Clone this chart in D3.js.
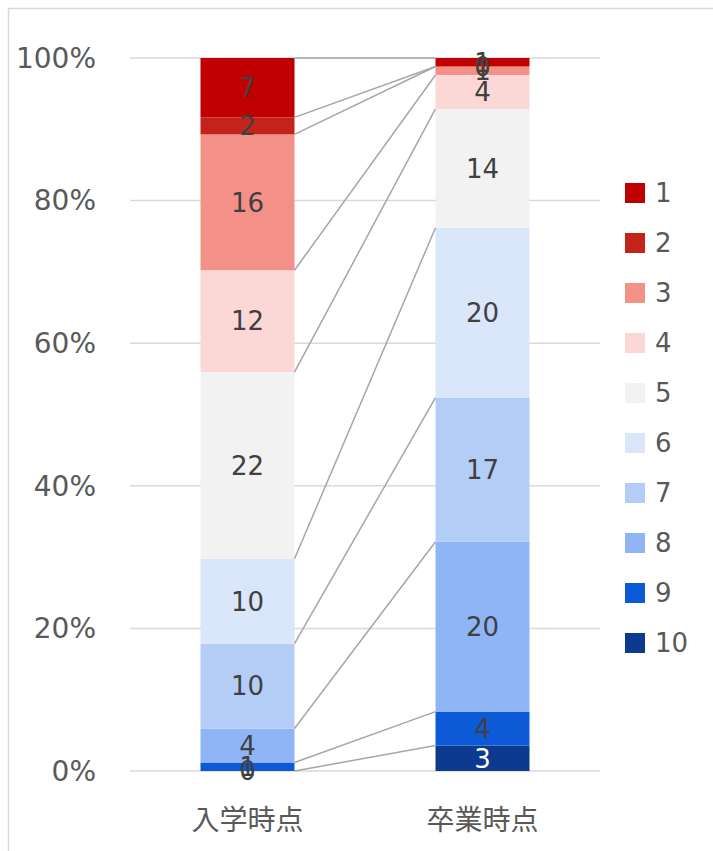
<!DOCTYPE html>
<html>
<head>
<meta charset="utf-8">
<script src="https://cdn.jsdelivr.net/npm/d3@7/dist/d3.min.js"></script>
<style>
  html, body { margin: 0; padding: 0; background: #fff; }
  svg { display: block; }
</style>
</head>
<body>
<svg id="chart" width="713" height="851"></svg>
<script>
// Categories (x axis) and series (stack order bottom-up is 10 → 1)
const categories = ["入学時点", "卒業時点"];
const seriesNames = ["1", "2", "3", "4", "5", "6", "7", "8", "9", "10"];
// Counts per series, one value per category
const valuesEntry = [7, 2, 16, 12, 22, 10, 10, 4, 1, 0];
const valuesGrad  = [1, 0, 1, 4, 14, 20, 17, 20, 4, 3];
const seriesColors = ["#c00000", "#c4231a", "#f39189", "#fbd8d6", "#f2f2f2",
                      "#dae6fa", "#b4cdf7", "#8fb5f6", "#0c5ad8", "#0b3a8e"];
const yTicks = [0, 0.2, 0.4, 0.6, 0.8, 1.0];

const svg = d3.select("#chart");
const W = 713, H = 851;

// chart frame
svg.append("rect").attr("x", 8.5).attr("y", 8.5).attr("width", W + 20).attr("height", H + 20)
  .attr("fill", "#fff").attr("stroke", "#d9d9d9").attr("stroke-width", 1.5);

const plot = { left: 130, right: 600, top: 58, bottom: 771 };

const x = d3.scaleBand().domain(categories).range([plot.left, plot.right]).paddingInner(0.6).paddingOuter(0.3);
const y = d3.scaleLinear().domain([0, 1]).range([plot.bottom, plot.top]);

// rows for the stack: one per category
const rows = categories.map((c, i) => {
  const vals = i === 0 ? valuesEntry : valuesGrad;
  const total = d3.sum(vals);
  const row = { category: c };
  seriesNames.forEach((s, k) => { row[s] = vals[k] / total; row["_raw" + s] = vals[k]; });
  return row;
});

// stack from bottom: series 10 first
const stackKeys = seriesNames.slice().reverse();
const stacked = d3.stack().keys(stackKeys)(rows);

// gridlines
svg.append("g").selectAll("line").data(yTicks).join("line")
  .attr("x1", plot.left).attr("x2", plot.right)
  .attr("y1", d => y(d)).attr("y2", d => y(d))
  .attr("stroke", "#d9d9d9").attr("stroke-width", 1.5);

// y tick labels
svg.append("g").selectAll("text").data(yTicks).join("text")
  .attr("x", 96).attr("y", d => y(d)).attr("dy", "0.35em")
  .attr("text-anchor", "end")
  .attr("font-family", "'DejaVu Sans', Verdana, sans-serif").attr("font-size", 28)
  .attr("fill", "#595959")
  .text(d3.format(".0%"));

// bars
const colorOf = d3.scaleOrdinal().domain(seriesNames).range(seriesColors);
const layer = svg.append("g").selectAll("g").data(stacked).join("g")
  .attr("fill", d => colorOf(d.key));
layer.selectAll("rect").data(d => d).join("rect")
  .attr("x", d => x(d.data.category))
  .attr("width", x.bandwidth())
  .attr("y", d => y(d[1]))
  .attr("height", d => y(d[0]) - y(d[1]));

// series lines: connect the top of each segment between the two columns
svg.append("g").selectAll("line").data(stacked).join("line")
  .attr("x1", x(categories[0]) + x.bandwidth())
  .attr("x2", x(categories[1]))
  .attr("y1", d => y(d[0][1]))
  .attr("y2", d => y(d[1][1]))
  .attr("stroke", "#a6a6a6").attr("stroke-width", 1.5);

// data labels, painted in series order 1 → 10
const labels = [];
stacked.slice().reverse().forEach(s => s.forEach(d => labels.push({ key: s.key, d })));
svg.append("g").selectAll("text").data(labels).join("text")
  .attr("x", l => x(l.d.data.category) + x.bandwidth() / 2)
  .attr("y", l => y((l.d[0] + l.d[1]) / 2))
  .attr("dy", "0.36em")
  .attr("text-anchor", "middle")
  .attr("font-family", "'DejaVu Sans', Verdana, sans-serif").attr("font-size", 26)
  .attr("fill", l => (l.key === "10" && l.d.data["_raw" + l.key] > 0) ? "#ffffff" : "#404040")
  .text(l => l.d.data["_raw" + l.key]);

// category labels
svg.append("g").selectAll("text").data(categories).join("text")
  .attr("x", d => x(d) + x.bandwidth() / 2)
  .attr("y", 830)
  .attr("text-anchor", "middle")
  .attr("font-family", "'Noto Sans CJK JP', sans-serif").attr("font-size", 28)
  .attr("fill", "#595959")
  .text(d => d);

// legend
const legend = svg.append("g").selectAll("g").data(seriesNames).join("g")
  .attr("transform", (d, i) => `translate(625, ${193 + i * 50})`);
legend.append("rect").attr("x", 0).attr("y", -10).attr("width", 20).attr("height", 20)
  .attr("fill", d => colorOf(d));
legend.append("text").attr("x", 30).attr("y", 0).attr("dy", "0.36em")
  .attr("font-family", "'DejaVu Sans', Verdana, sans-serif").attr("font-size", 26)
  .attr("fill", "#595959")
  .text(d => d);
</script>
</body>
</html>
